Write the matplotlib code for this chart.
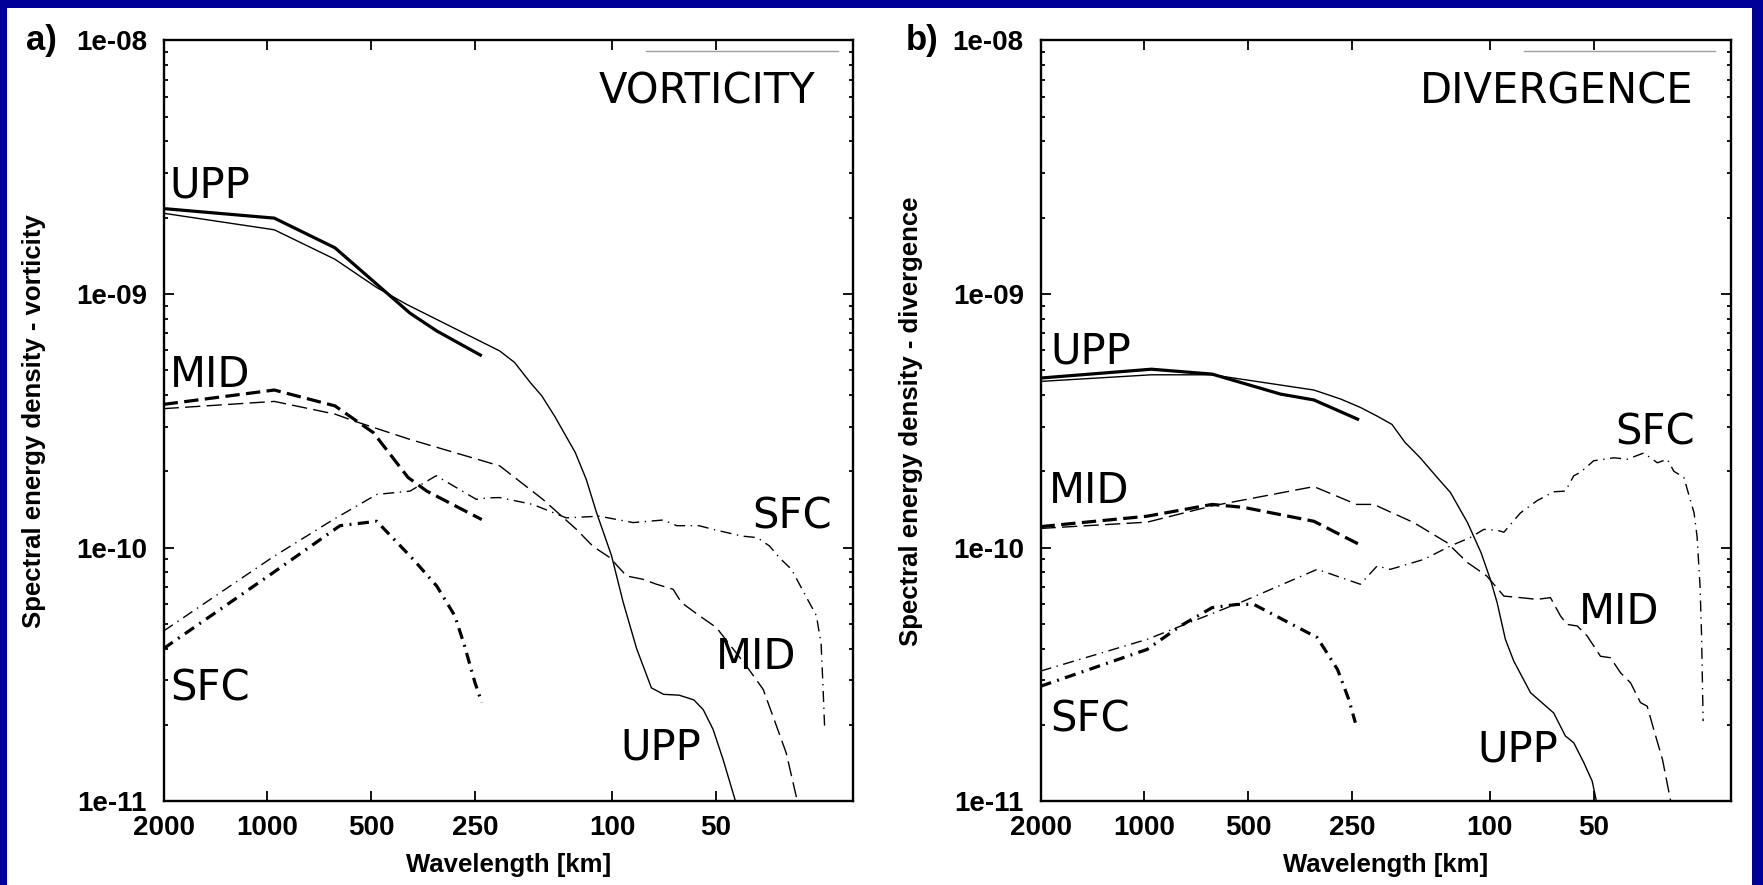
import matplotlib.pyplot as plt
from matplotlib.lines import Line2D
from matplotlib.patches import Rectangle
from matplotlib.ticker import LogLocator, NullLocator, NullFormatter

# 軸の目盛り
xtick_values = [2000, 1000, 500, 250, 100, 50]
xtick_labels = ['2000', '1000', '500', '250', '100', '50']
ytick_values = [1e-11, 1e-10, 1e-09, 1e-08]
ytick_labels = ['1e-11', '1e-10', '1e-09', '1e-08']

# a) 渦度 (波長 [km], スペクトルエネルギー密度)
vort_upp_thick_L = [2000, 955, 637, 386, 323, 239]
vort_upp_thick_v = [2.17e-9, 1.99e-9, 1.52e-9, 8.4e-10, 7.15e-10, 5.7e-10]
vort_upp_thin_L = [2000, 955, 637, 482, 395, 212, 192, 173, 160, 147, 128, 119, 111,
                   100.5, 93, 85, 77, 71, 64, 58, 54.5, 51, 47.7, 44.1, 42.5]
vort_upp_thin_v = [2.08e-9, 1.79e-9, 1.37e-9, 1.06e-9, 9.1e-10, 5.96e-10, 5.37e-10,
                   4.48e-10, 3.96e-10, 3.3e-10, 2.37e-10, 1.86e-10, 1.37e-10, 9.3e-11,
                   6.1e-11, 4.0e-11, 2.8e-11, 2.64e-11, 2.62e-11, 2.51e-11, 2.3e-11,
                   1.92e-11, 1.46e-11, 1.02e-11, 8.5e-12]
vort_mid_thick_L = [2000, 955, 637, 493, 391, 345, 239]
vort_mid_thick_v = [3.67e-10, 4.18e-10, 3.62e-10, 2.84e-10, 1.89e-10, 1.67e-10, 1.29e-10]
vort_mid_thin_L = [2000, 955, 637, 551, 386, 212, 159, 127, 113.6, 101.6, 90.9, 81.4,
                   74.4, 66.6, 63, 55.8, 49.9, 40.8, 36.5, 33.4, 31.3, 29.2, 28.6]
vort_mid_thin_v = [3.53e-10, 3.77e-10, 3.36e-10, 3.13e-10, 2.67e-10, 2.1e-10, 1.55e-10,
                   1.18e-10, 1.01e-10, 9.13e-11, 7.73e-11, 7.5e-11, 7.17e-11, 6.85e-11,
                   6.07e-11, 5.38e-11, 4.84e-11, 3.41e-11, 2.76e-11, 1.98e-11, 1.55e-11,
                   1.03e-11, 8.5e-12]
vort_sfc_thick_L = [2000, 962, 616, 482, 378, 323, 286, 268, 250, 239]
vort_sfc_thick_v = [4.0e-11, 7.97e-11, 1.22e-10, 1.27e-10, 9.0e-11, 7.06e-11, 5.38e-11,
                    4.09e-11, 2.93e-11, 2.45e-11]
vort_sfc_thin_L = [2000, 962, 644, 482, 386, 324, 248, 230, 212, 170, 136, 109, 87, 71,
                   65, 56, 51, 42, 38, 35, 32.7, 30.2, 27.4, 25.6, 24.8, 24.5, 24.2]
vort_sfc_thin_v = [4.69e-11, 9.2e-11, 1.29e-10, 1.62e-10, 1.67e-10, 1.92e-10, 1.55e-10,
                   1.57e-10, 1.575e-10, 1.48e-10, 1.31e-10, 1.33e-10, 1.255e-10,
                   1.285e-10, 1.22e-10, 1.22e-10, 1.18e-10, 1.11e-10, 1.095e-10,
                   1.015e-10, 9.1e-11, 8.2e-11, 6.4e-11, 5.4e-11, 4.2e-11, 2.9e-11, 1.9e-11]

# b) 発散
div_upp_thick_L = [2000, 955, 637, 404, 323, 239]
div_upp_thick_v = [4.66e-10, 5.05e-10, 4.83e-10, 4.03e-10, 3.82e-10, 3.19e-10]
div_upp_thin_L = [2000, 955, 637, 323, 270, 237, 212, 192, 176, 159, 142, 130, 116, 106,
                  99.6, 95.2, 90.1, 85.2, 76.2, 65.3, 60.4, 57.1, 53.4, 50.5, 49.1, 48.5]
div_upp_thin_v = [4.52e-10, 4.8e-10, 4.8e-10, 4.18e-10, 3.85e-10, 3.57e-10, 3.3e-10,
                  3.06e-10, 2.6e-10, 2.26e-10, 1.89e-10, 1.65e-10, 1.255e-10, 9.56e-11,
                  7.5e-11, 6.07e-11, 4.35e-11, 3.57e-11, 2.68e-11, 2.23e-11, 1.81e-11,
                  1.7e-11, 1.42e-11, 1.2e-11, 1.0e-11, 9e-12]
div_mid_thick_L = [2000, 982, 637, 515, 323, 239]
div_mid_thick_v = [1.21e-10, 1.33e-10, 1.48e-10, 1.44e-10, 1.27e-10, 1.03e-10]
div_mid_thin_L = [2000, 982, 637, 323, 243, 216, 207.5, 166, 133, 116, 102, 91, 81.5, 73,
                  66.7, 62.4, 59.7, 55.8, 52.2, 47.8, 44.7, 41.8, 39.1, 36.6, 35, 33.5,
                  31.6, 30, 29.5]
div_mid_thin_v = [1.19e-10, 1.26e-10, 1.46e-10, 1.74e-10, 1.48e-10, 1.48e-10, 1.44e-10,
                  1.255e-10, 1.046e-10, 8.73e-11, 7.73e-11, 6.44e-11, 6.35e-11, 6.25e-11,
                  6.35e-11, 5.38e-11, 4.98e-11, 4.91e-11, 4.48e-11, 3.73e-11, 3.68e-11,
                  3.21e-11, 2.93e-11, 2.45e-11, 2.37e-11, 1.92e-11, 1.46e-11, 1.02e-11, 9e-12]
div_sfc_thick_L = [2000, 982, 787, 637, 539, 482, 316, 276, 256, 245]
div_sfc_thick_v = [2.84e-11, 3.97e-11, 4.91e-11, 5.8e-11, 5.97e-11, 5.97e-11, 4.42e-11,
                   3.31e-11, 2.52e-11, 2.04e-11]
div_sfc_thin_L = [2000, 982, 515, 316, 237, 212, 194, 155, 130, 114, 104, 95, 91, 81.5,
                  73, 65.3, 60.4, 57.1, 54.6, 50, 43.7, 40, 35.8, 32.7, 30.6, 29.3, 27.4,
                  26.8, 25.6, 25.1, 24.6, 24.35, 24.1]
div_sfc_thin_v = [3.26e-11, 4.35e-11, 6.16e-11, 8.21e-11, 7.17e-11, 8.46e-11, 8.21e-11,
                  8.99e-11, 1.015e-10, 1.095e-10, 1.18e-10, 1.17e-10, 1.15e-10, 1.37e-10,
                  1.53e-10, 1.66e-10, 1.67e-10, 1.92e-10, 1.98e-10, 2.2e-10, 2.26e-10,
                  2.23e-10, 2.36e-10, 2.16e-10, 2.23e-10, 2.0e-10, 1.89e-10, 1.7e-10,
                  1.37e-10, 1.11e-10, 7.06e-11, 4.48e-11, 2.07e-11]

plt.rcParams['font.family'] = ['Liberation Sans', 'DejaVu Sans']

# 線の種類 (太線 = 短い領域, 細線 = 全域)
THICK = 2.3
THIN = 1.0
styles = {
    'upp_thick': dict(lw=THICK, ls='-'),
    'upp_thin': dict(lw=THIN, ls='-'),
    'mid_thick': dict(lw=THICK, ls=(0, (4.5, 2.0))),
    'mid_thin': dict(lw=THIN, ls=(0, (11, 4.5))),
    'sfc_thick': dict(lw=THICK, ls=(0, (3.5, 2.0, 0.6, 2.0))),
    'sfc_thin': dict(lw=THIN, ls=(0, (8, 4, 1, 4))),
}


def draw_panel(ax, curves, ylabel, title, labels):
    for key, (L, v) in curves.items():
        ax.plot(L, v, color='black', solid_capstyle='butt', **styles[key])

    ax.set_xscale('log')
    ax.set_yscale('log')
    ax.set_xlim(2000, 20)
    ax.set_ylim(1e-11, 1e-08)

    ax.set_xticks(xtick_values, labels=xtick_labels, fontsize=20, fontweight='bold')
    ax.set_yticks(ytick_values, labels=ytick_labels, fontsize=20, fontweight='bold')
    ax.xaxis.set_minor_locator(NullLocator())
    ax.yaxis.set_minor_locator(LogLocator(base=10, subs=range(2, 10)))
    ax.yaxis.set_minor_formatter(NullFormatter())
    ax.tick_params(which='both', direction='in', top=True, right=True, width=1.3)
    ax.tick_params(which='major', length=7.2)
    ax.tick_params(which='minor', length=3.2)
    ax.tick_params(axis='x', pad=10)
    ax.tick_params(axis='y', pad=12)
    for sp in ax.spines.values():
        sp.set_linewidth(1.7)

    ax.set_xlabel('Wavelength [km]', fontsize=18.5, fontweight='bold')
    ax.set_ylabel(ylabel, fontsize=18.5, fontweight='bold')
    ax.xaxis.set_label_coords(0.5, -0.068)
    ax.yaxis.set_label_coords(-0.17, 0.5)

    ax.text(0.945, 0.9163, title, transform=ax.transAxes, ha='right', va='baseline',
            fontsize=30, family='DejaVu Sans')
    for txt, x, y in labels:
        ax.text(x, y, txt, transform=ax.transAxes, ha='left', va='baseline',
                fontsize=30, family='DejaVu Sans')

    # 右上の凡例の線 (ラベルなし)
    key = Line2D([], [], color='#a0a0a0', lw=1.0)
    ax.legend(handles=[key], labels=[' '], loc='upper right', bbox_to_anchor=(1, 1),
              frameon=False, handlelength=13.8, handletextpad=0.5, borderpad=0.35,
              borderaxespad=0, fontsize=10)


fig = plt.figure(figsize=(17.63, 8.85), dpi=100, facecolor='#000099')
fig.add_artist(Rectangle((0.004, 0), 0.9898, 0.9906, transform=fig.transFigure,
                         facecolor='white', edgecolor='none', zorder=0))

ax1 = fig.add_axes([0.0928, 0.0946, 0.3912, 0.8599])
ax2 = fig.add_axes([0.5902, 0.0946, 0.3917, 0.8599])

draw_panel(ax1,
           {'upp_thin': (vort_upp_thin_L, vort_upp_thin_v),
            'upp_thick': (vort_upp_thick_L, vort_upp_thick_v),
            'mid_thin': (vort_mid_thin_L, vort_mid_thin_v),
            'mid_thick': (vort_mid_thick_L, vort_mid_thick_v),
            'sfc_thin': (vort_sfc_thin_L, vort_sfc_thin_v),
            'sfc_thick': (vort_sfc_thick_L, vort_sfc_thick_v)},
           'Spectral energy density - vorticity', 'VORTICITY',
           [('UPP', 0.009, 0.794), ('MID', 0.009, 0.544), ('SFC', 0.009, 0.133),
            ('SFC', 0.853, 0.3587), ('MID', 0.801, 0.1735), ('UPP', 0.663, 0.0543)])

draw_panel(ax2,
           {'upp_thin': (div_upp_thin_L, div_upp_thin_v),
            'upp_thick': (div_upp_thick_L, div_upp_thick_v),
            'mid_thin': (div_mid_thin_L, div_mid_thin_v),
            'mid_thick': (div_mid_thick_L, div_mid_thick_v),
            'sfc_thin': (div_sfc_thin_L, div_sfc_thin_v),
            'sfc_thick': (div_sfc_thick_L, div_sfc_thick_v)},
           'Spectral energy density - divergence', 'DIVERGENCE',
           [('UPP', 0.014, 0.5756), ('MID', 0.012, 0.3916), ('SFC', 0.014, 0.0915),
            ('SFC', 0.832, 0.4682), ('MID', 0.779, 0.233), ('UPP', 0.632, 0.052)])

fig.text(0.0146, 0.943, 'a)', fontsize=25, fontweight='bold', ha='left', va='baseline')
fig.text(0.5135, 0.943, 'b)', fontsize=25, fontweight='bold', ha='left', va='baseline')

fig.savefig('out.png', dpi=100, facecolor=fig.get_facecolor())
